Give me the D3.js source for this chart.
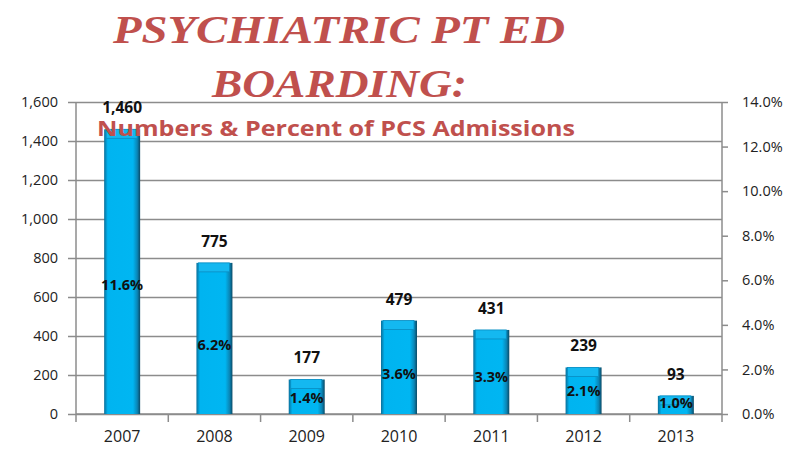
<!DOCTYPE html>
<html>
<head>
<meta charset="utf-8">
<script src="https://cdn.jsdelivr.net/npm/d3@7"></script>
<style>
  body { margin: 0; background: #fff; }
  svg text { font-family: "Open Sans", "Noto Sans", sans-serif; }
</style>
</head>
<body>
<div id="chart"></div>
<script>
var years = ["2007", "2008", "2009", "2010", "2011", "2012", "2013"];
var boarders = [1460, 775, 177, 479, 431, 239, 93];
var pctAdmissions = [11.6, 6.2, 1.4, 3.6, 3.3, 2.1, 1.0];
var leftTicks = [0, 200, 400, 600, 800, 1000, 1200, 1400, 1600];
var rightTicks = [0, 2, 4, 6, 8, 10, 12, 14];
var titleLines = ["PSYCHIATRIC PT ED", "BOARDING:"];
var subtitle = "Numbers & Percent of PCS Admissions";

var width = 791, height = 450;
var margin = {top: 102, right: 69, bottom: 36, left: 76};
var chartWidth = width - margin.left - margin.right,
    chartHeight = height - margin.top - margin.bottom;

var red = "#c0504d", grid = "#8c8c8c";

var svg = d3.select("#chart").append("svg")
  .attr("width", width)
  .attr("height", height);

var defs = svg.append("defs");
var grad = defs.append("linearGradient").attr("id", "barGrad")
  .attr("x1", 0).attr("x2", 1).attr("y1", 0).attr("y2", 0);
grad.append("stop").attr("offset", "0").attr("stop-color", "#0a6f9a");
grad.append("stop").attr("offset", "0.1").attr("stop-color", "#00b4f0");
grad.append("stop").attr("offset", "0.8").attr("stop-color", "#00b6f2");
grad.append("stop").attr("offset", "0.92").attr("stop-color", "#0a86b6");
grad.append("stop").attr("offset", "1").attr("stop-color", "#0a4a66");

var chart = svg.append("g")
  .attr("transform", "translate(" + margin.left + "," + margin.top + ")");

var x = d3.scaleBand()
  .domain(years)
  .range([0, chartWidth])
  .paddingInner(0.61)
  .paddingOuter(0.305);

var y = d3.scaleLinear().domain([0, 1600]).range([chartHeight, 0]);
var yR = d3.scaleLinear().domain([0, 14]).range([chartHeight, 0]);

// left axis + gridlines
var yAxis = d3.axisLeft(y)
  .tickValues(leftTicks)
  .tickFormat(d3.format(","))
  .tickSize(8)
  .tickPadding(10);

var gy = chart.append("g").attr("class", "yAxis").call(yAxis);
gy.selectAll(".tick line").attr("x1", chartWidth).attr("stroke", grid).attr("stroke-width", 1.5);
gy.select(".domain").attr("d", "M0,0V" + chartHeight).attr("stroke", grid).attr("stroke-width", 1.5);
gy.selectAll("text").attr("font-size", 14.5).attr("fill", "#222");

// right axis
var yRAxis = d3.axisRight(yR)
  .tickValues(rightTicks)
  .tickFormat(function(d){ return d3.format(".1f")(d) + "%"; })
  .tickSize(6)
  .tickPadding(14);

var gyR = chart.append("g").attr("class", "yRAxis")
  .attr("transform", "translate(" + chartWidth + ",0)")
  .call(yRAxis);
gyR.selectAll(".tick line").attr("stroke", grid).attr("stroke-width", 1.5);
gyR.select(".domain").attr("d", "M0,0V" + (chartHeight + 8)).attr("stroke", grid).attr("stroke-width", 1.5);
gyR.selectAll("text").attr("font-size", 14.5).attr("fill", "#222");

// bottom axis
var xAxis = d3.axisBottom(x).tickSize(0).tickPadding(17);
var gx = chart.append("g").attr("class", "xAxis")
  .attr("transform", "translate(0," + chartHeight + ")")
  .call(xAxis);
gx.select(".domain").attr("d", "M0,0H" + chartWidth).attr("stroke", grid).attr("stroke-width", 1.5);
gx.selectAll("text").attr("font-size", 16).attr("fill", "#222");
gx.selectAll("line.bound")
  .data(years.map(function(d, i){ return i; }))
  .enter().append("line")
  .attr("class", "bound")
  .attr("x1", function(i){ return i * x.step(); })
  .attr("x2", function(i){ return i * x.step(); })
  .attr("y1", 0).attr("y2", 8)
  .attr("stroke", grid).attr("stroke-width", 1.5);

// bars
var bars = chart.selectAll("g.bar")
  .data(years.map(function(d, i){ return {year: d, value: boarders[i], pct: pctAdmissions[i]}; }))
  .enter().append("g")
  .attr("class", "bar");

bars.append("rect")
  .attr("x", function(d){ return x(d.year); })
  .attr("y", function(d){ return y(d.value); })
  .attr("width", x.bandwidth())
  .attr("height", function(d){ return chartHeight - y(d.value); })
  .attr("fill", "url(#barGrad)");

bars.append("rect")
  .attr("x", function(d){ return x(d.year) + 2; })
  .attr("y", function(d){ return y(d.value); })
  .attr("width", x.bandwidth() - 5)
  .attr("height", function(d){ return Math.min(9, chartHeight - y(d.value)); })
  .attr("fill", "#14b8f0")
  .attr("stroke", "#0a8cc0")
  .attr("stroke-width", 0.8);

// value labels
bars.append("text")
  .attr("x", function(d){ return x(d.year) + x.bandwidth() / 2; })
  .attr("y", function(d){ return y(d.value) - 16; })
  .attr("text-anchor", "middle")
  .attr("font-size", 15.5)
  .attr("font-weight", "bold")
  .attr("fill", "#111")
  .text(function(d){ return d3.format(",")(d.value); });

// percent labels, centred on the secondary-axis value
bars.append("text")
  .attr("x", function(d){ return x(d.year) + x.bandwidth() / 2; })
  .attr("y", function(d){ return (yR(d.pct) + yR(0)) / 2; })
  .attr("dy", "0.35em")
  .attr("text-anchor", "middle")
  .attr("font-size", 14.5)
  .attr("font-weight", "bold")
  .attr("fill", "#111")
  .text(function(d){ return d3.format(".1f")(d.pct) + "%"; });

// title
var title = svg.append("g").attr("class", "title");
title.append("text")
  .attr("x", 113).attr("y", 43)
  .attr("textLength", 452).attr("lengthAdjust", "spacingAndGlyphs")
  .style("font-family", "'Liberation Serif', 'DejaVu Serif', serif")
  .attr("font-size", 40).attr("font-weight", "bold").attr("font-style", "italic")
  .attr("fill", red)
  .text(titleLines[0]);
title.append("text")
  .attr("x", 212).attr("y", 97)
  .attr("textLength", 255).attr("lengthAdjust", "spacingAndGlyphs")
  .style("font-family", "'Liberation Serif', 'DejaVu Serif', serif")
  .attr("font-size", 40).attr("font-weight", "bold").attr("font-style", "italic")
  .attr("fill", red)
  .text(titleLines[1]);
title.append("text")
  .attr("x", 97).attr("y", 136)
  .attr("textLength", 478).attr("lengthAdjust", "spacingAndGlyphs")
  .attr("font-size", 22).attr("font-weight", "bold")
  .attr("fill", red)
  .text(subtitle);
</script>
</body>
</html>
